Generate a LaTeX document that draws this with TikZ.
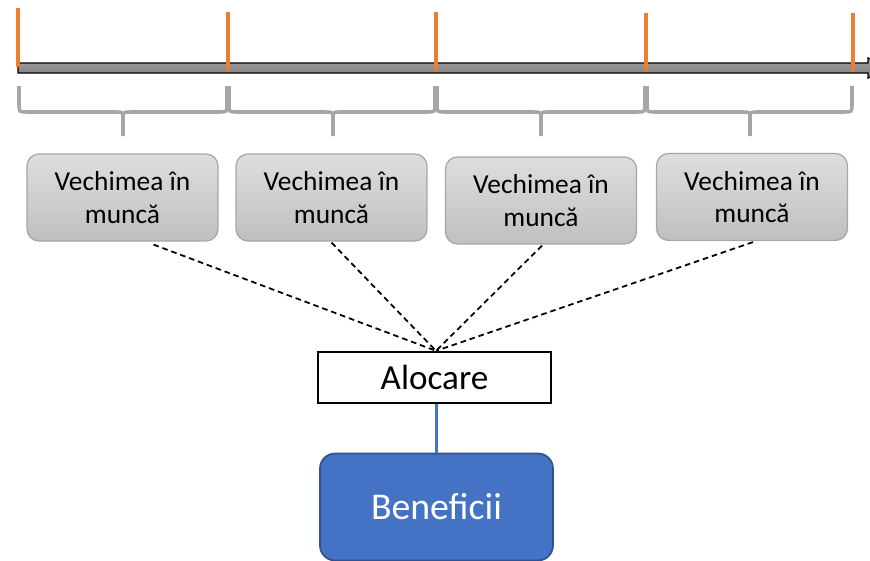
\documentclass[tikz,border=0pt]{standalone}
\usepackage{fontspec}
\setmainfont{Carlito}
\usetikzlibrary{calc}

\definecolor{portocaliu}{HTML}{ED7D31}
\definecolor{albastru}{HTML}{4472C4}
\definecolor{albastruinchis}{HTML}{2F528F}
\definecolor{acolada}{HTML}{A6A6A6}

\tikzset{
  vechime/.style={rectangle, rounded corners=2.4mm, draw=acolada, line width=0.7pt,
    top color=black!13, bottom color=black!25, minimum width=3.82cm, minimum height=1.74cm,
    align=center, font=\fontsize{15.6}{18.5}\selectfont},
  alocare/.style={rectangle, draw=black, line width=1.3pt, fill=white,
    minimum width=4.66cm, minimum height=1.02cm, font=\fontsize{20}{24}\selectfont},
  beneficii/.style={rectangle, rounded corners=3mm, draw=albastruinchis, line width=1pt,
    fill=albastru, text=white, minimum width=4.66cm, minimum height=2.14cm,
    font=\fontsize{21.5}{26}\selectfont},
  reper/.style={portocaliu, line width=2.1pt},
  acoladagri/.style={acolada, line width=2pt},
  legatura/.style={dash pattern=on 3.2pt off 2.2pt, line width=1pt},
}

\begin{document}
\begin{tikzpicture}[x=0.02cm, y=-0.02cm]
  \useasboundingbox (0,0) rectangle (870,561);
  \clip (0,0) rectangle (870,561);

  % Axa timpului
  \draw[black, line width=0.8pt, top color=black!38, bottom color=black!50]
    (18,63) -- (868,63) -- (868,58) -- (890,68) -- (868,78) -- (868,73) -- (18,73) -- cycle;

  % Repere portocalii
  \draw[reper] (18,8) -- (18,67);
  \draw[reper] (228,12) -- (228,71);
  \draw[reper] (436,12) -- (436,71);
  \draw[reper] (646,13) -- (646,71);
  \draw[reper] (853,13) -- (853,72);

  % Acolade
  \draw[acoladagri] (19,86) -- (19,104) .. controls (19,112) .. (27,112) -- (116,112)
    .. controls (123,112) .. (123,120) -- (123,136);
  \draw[acoladagri] (227,86) -- (227,104) .. controls (227,112) .. (219,112) -- (130,112)
    .. controls (123,112) .. (123,120);
  \draw[acoladagri] (229,86) -- (229,104) .. controls (229,112) .. (237,112) -- (326,112)
    .. controls (333,112) .. (333,120) -- (333,136);
  \draw[acoladagri] (435,86) -- (435,104) .. controls (435,112) .. (427,112) -- (340,112)
    .. controls (333,112) .. (333,120);
  \draw[acoladagri] (437,86) -- (437,104) .. controls (437,112) .. (445,112) -- (534,112)
    .. controls (541,112) .. (541,120) -- (541,136);
  \draw[acoladagri] (645,86) -- (645,104) .. controls (645,112) .. (637,112) -- (548,112)
    .. controls (541,112) .. (541,120);
  \draw[acoladagri] (647,86) -- (647,104) .. controls (647,112) .. (655,112) -- (743,112)
    .. controls (750,112) .. (750,120) -- (750,136);
  \draw[acoladagri] (852,86) -- (852,104) .. controls (852,112) .. (844,112) -- (757,112)
    .. controls (750,112) .. (750,120);

  % Perioade
  \node[vechime] (v1) at (122.5,197.5) {Vechimea în\\muncă};
  \node[vechime] (v2) at (331.5,197.5) {Vechimea în\\muncă};
  \node[vechime] (v3) at (541,200.5) {Vechimea în\\muncă};
  \node[vechime] (v4) at (752,197) {Vechimea în\\muncă};

  % Alocare si beneficii
  \node[alocare] (aloc) at (434.5,377.5) {Alocare};
  \node[beneficii] (ben) at (436.5,507) {Beneficii};

  % Legaturi
  \draw[legatura] ($(v1.south)+(31,3)$) -- ($(aloc.north)+(1.5,0)$);
  \draw[legatura] ($(v2.south)+(0,1)$) -- ($(aloc.north)+(1.5,0)$);
  \draw[legatura] ($(v3.south)+(1,1)$) -- ($(aloc.north)+(1.5,0)$);
  \draw[legatura] ($(v4.south)+(1,1)$) -- ($(aloc.north)+(1.5,0)$);
  \draw[albastru, line width=1.4pt] (aloc.south -| ben.north) -- (ben.north);
\end{tikzpicture}
\end{document}
